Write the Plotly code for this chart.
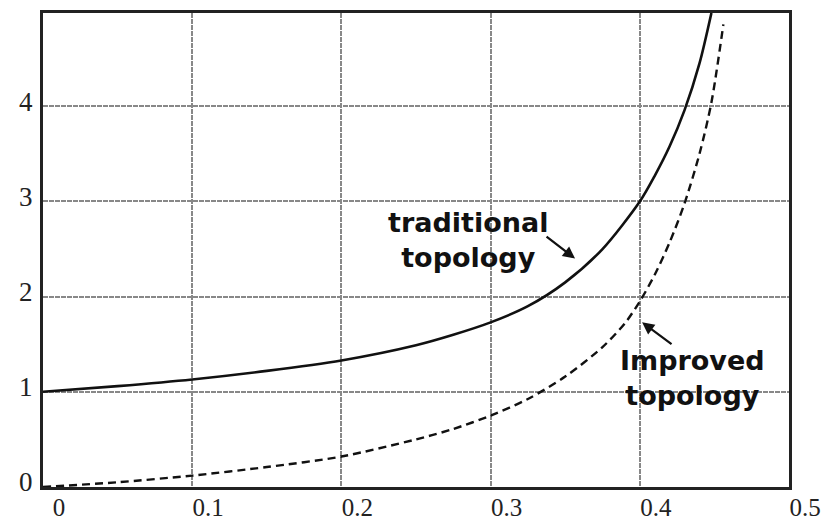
import plotly.graph_objects as go

# Values
trad_x = [0.0, 0.05, 0.1, 0.15, 0.2, 0.25, 0.275, 0.3, 0.325, 0.35, 0.375, 0.4, 0.41, 0.42, 0.43, 0.44, 0.448]
trad_y = [1.0, 1.06, 1.13, 1.22, 1.33, 1.49, 1.60, 1.73, 1.9, 2.15, 2.5, 3.0, 3.27, 3.58, 3.96, 4.45, 4.98]

impr_x = [0.0, 0.05, 0.1, 0.15, 0.2, 0.25, 0.275, 0.3, 0.325, 0.35, 0.375, 0.39, 0.4, 0.41, 0.42, 0.43, 0.44, 0.448, 0.456]
impr_y = [0.0, 0.05, 0.12, 0.21, 0.32, 0.5, 0.61, 0.75, 0.925, 1.16, 1.47, 1.72, 1.95, 2.23, 2.57, 2.98, 3.5, 4.04, 4.86]

x_ticks = [0, 0.1, 0.2, 0.3, 0.4, 0.5]
y_ticks = [0, 1, 2, 3, 4]

label_trad = "traditional<br>topology"
label_impr = "Improved<br>topology"

fig = go.Figure()
fig.add_trace(go.Scatter(x=trad_x, y=trad_y, mode="lines",
                         line=dict(color="#111", width=2.6, shape="spline", smoothing=0.8),
                         showlegend=False, hoverinfo="skip"))
fig.add_trace(go.Scatter(x=impr_x, y=impr_y, mode="lines",
                         line=dict(color="#111", width=2.4, dash="8px,5px", shape="spline", smoothing=0.8),
                         showlegend=False, hoverinfo="skip"))

ann_font = dict(family="DejaVu Sans", size=27, color="#111")
fig.add_annotation(x=0.2848, y=2.59, text="<b>" + label_trad + "</b>", showarrow=False, font=ann_font, align="center")
fig.add_annotation(x=0.435, y=1.14, text="<b>" + label_impr + "</b>", showarrow=False, font=ann_font, align="center")
fig.add_annotation(x=0.3566, y=2.40, ax=-30, ay=-23, text="", showarrow=True, arrowhead=2, arrowsize=1.1,
                   arrowwidth=2.2, arrowcolor="#111")
fig.add_annotation(x=0.4015, y=1.73, ax=31, ay=23, text="", showarrow=True, arrowhead=2, arrowsize=1.1,
                   arrowwidth=2.2, arrowcolor="#111")

grid = dict(showgrid=True, gridcolor="#888", gridwidth=1.5, griddash="5px,1px",
            showline=True, linecolor="#222", linewidth=3, mirror=True, zeroline=False, ticks="",
            automargin=False)
fig.update_xaxes(range=[0, 0.5], tickvals=x_ticks, ticklabelshift=16, ticklabelstandoff=-4,
                 tickfont=dict(family="Liberation Serif", size=25, color="#222"), **grid)
fig.update_yaxes(range=[0, 4.98], tickvals=y_ticks, ticklabelshift=-5, ticklabelstandoff=2,
                 tickfont=dict(family="Liberation Serif", size=27, color="#222"), **grid)

fig.update_layout(width=828, height=527, margin=dict(l=43, r=39, t=13, b=40),
                  plot_bgcolor="white", paper_bgcolor="white")

fig.write_html("out.html", config={"displayModeBar": False},
               post_script="document.body.style.margin='0';")
